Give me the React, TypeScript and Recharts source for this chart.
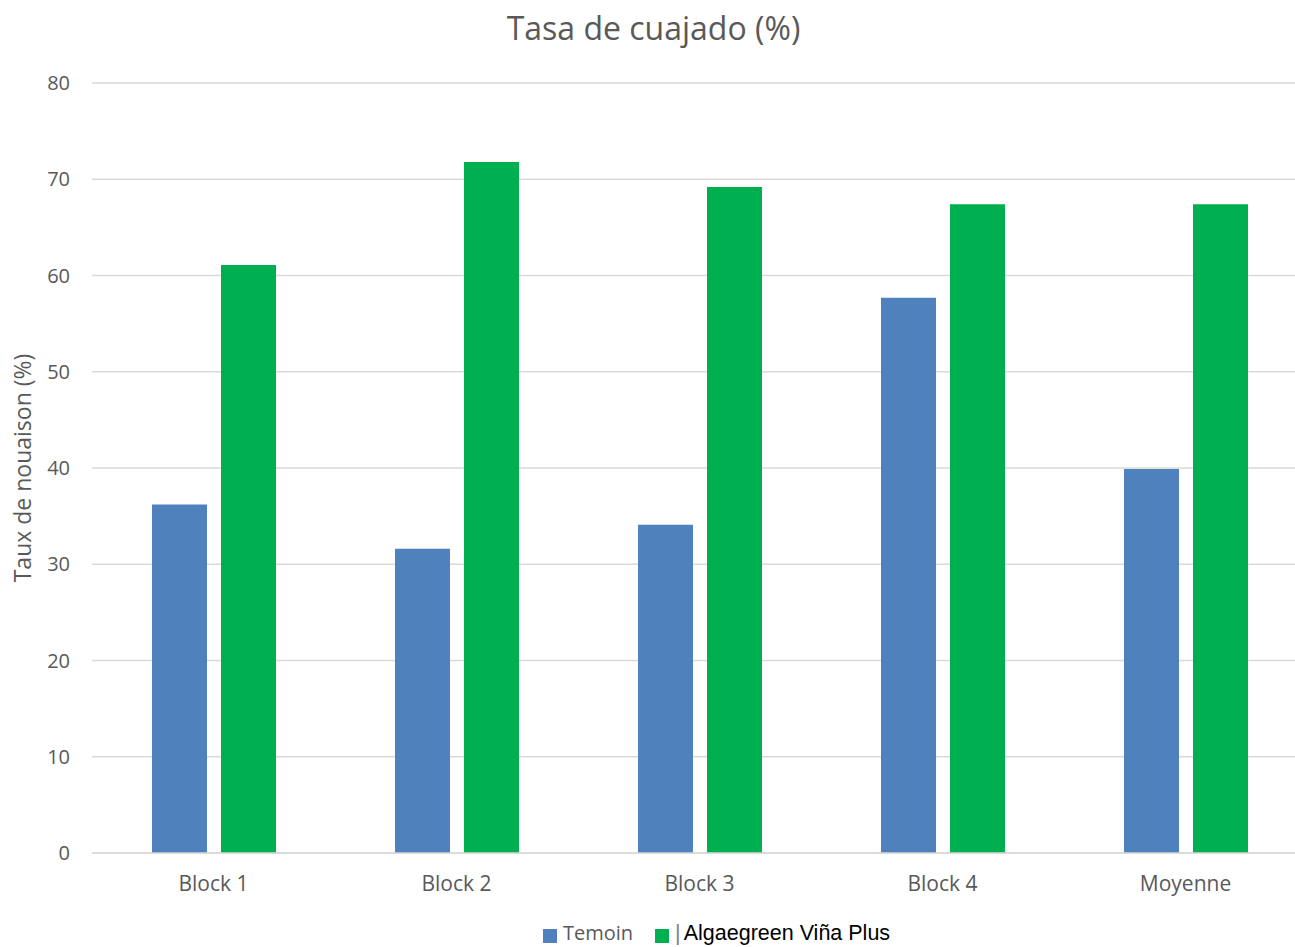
import React from "react";
import { BarChart, Bar, XAxis, YAxis, CartesianGrid, Label } from "recharts";

// Fruit-set rate per block, control vs treated
const categories = ["Block 1", "Block 2", "Block 3", "Block 4", "Moyenne"];
const temoin = [36.2, 31.6, 34.1, 57.7, 39.9];
const algaegreen = [61.1, 71.8, 69.2, 67.4, 67.4];
const yTicks = [0, 10, 20, 30, 40, 50, 60, 70, 80];

const data = categories.map((name, i) => ({
  name,
  temoin: temoin[i],
  algaegreen: algaegreen[i],
}));

const BLUE = "#4F81BD";
const GREEN = "#00B050";
const GREY_TEXT = "#595959";
const FONT = "'Open Sans', sans-serif";

export default function App() {
  return (
    <div
      style={{
        position: "absolute",
        left: 0,
        top: 0,
        width: 1295,
        height: 947,
        overflow: "hidden",
        background: "#fff",
        fontFamily: FONT,
      }}
    >
      <div
        style={{
          position: "absolute",
          top: 8,
          left: 0,
          width: 1307,
          textAlign: "center",
          fontSize: 32,
          color: GREY_TEXT,
          lineHeight: "40px",
        }}
      >
        Tasa de cuajado (%)
      </div>
      <BarChart
        width={1307}
        height={947}
        data={data}
        margin={{ top: 83, right: 0, left: 0, bottom: 54 }}
        barSize={55}
        barGap={14}
      >
        <CartesianGrid vertical={false} stroke="#D9D9D9" strokeWidth={1.3} />
        <XAxis
          dataKey="name"
          height={40}
          axisLine={{ stroke: "#D9D9D9", strokeWidth: 1.3 }}
          tickLine={false}
          tickMargin={17}
          tick={{ fill: GREY_TEXT, fontSize: 21, fontFamily: FONT }}
        />
        <YAxis
          width={92}
          domain={[0, 80]}
          ticks={yTicks}
          axisLine={false}
          tickLine={false}
          tickMargin={16}
          tick={{ fill: GREY_TEXT, fontSize: 20, fontFamily: FONT }}
        >
          <Label
            content={({ viewBox }: any) => {
              const cy = viewBox.y + viewBox.height / 2;
              return (
                <text
                  x={22}
                  y={cy}
                  transform={`rotate(-90, 22, ${cy})`}
                  textAnchor="middle"
                  dominantBaseline="central"
                  fill={GREY_TEXT}
                  fontSize={23}
                  fontFamily={FONT}
                >
                  Taux de nouaison (%)
                </text>
              );
            }}
          />
        </YAxis>
        <Bar dataKey="temoin" name="Temoin" fill={BLUE} isAnimationActive={false} />
        <Bar dataKey="algaegreen" name="Algaegreen Viña Plus" fill={GREEN} isAnimationActive={false} />
      </BarChart>
      <div
        style={{
          position: "absolute",
          top: 921,
          left: 543,
          display: "flex",
          alignItems: "center",
          whiteSpace: "nowrap",
          fontSize: 20,
          lineHeight: "24px",
        }}
      >
        <span style={{ display: "inline-block", width: 14, height: 14, background: BLUE, marginRight: 6, marginTop: 6 }} />
        <span style={{ color: GREY_TEXT, fontFamily: FONT }}>Temoin</span>
        <span style={{ display: "inline-block", width: 14, height: 14, background: GREEN, marginLeft: 22, marginRight: 6, marginTop: 6 }} />
        <span style={{ color: "#000", fontFamily: "'Liberation Sans', Arial, sans-serif", fontSize: 21.5 }}>
          <span style={{ color: "#7f7f7f", marginRight: 3 }}>|</span>Algaegreen Viña Plus
        </span>
      </div>
    </div>
  );
}
